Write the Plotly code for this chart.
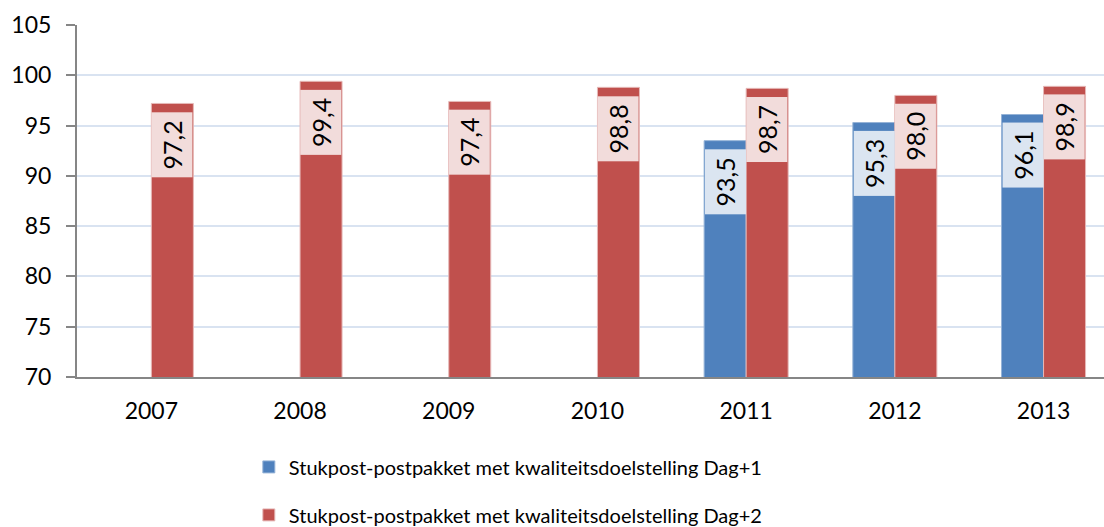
import plotly.graph_objects as go

years = ["2007", "2008", "2009", "2010", "2011", "2012", "2013"]
dag1 = [None, None, None, None, 93.5, 95.3, 96.1]
dag2 = [97.2, 99.4, 97.4, 98.8, 98.7, 98.0, 98.9]
name1 = "Stukpost-postpakket met kwaliteitsdoelstelling Dag+1"
name2 = "Stukpost-postpakket met kwaliteitsdoelstelling Dag+2"

BLUE = "#4f81bd"
RED = "#c0504d"
BLUE_BOX = "#dbe5f1"
RED_BOX = "#f2dcdb"
FONT = "Lato"
BARGAP = 0.435
half = (1 - BARGAP) / 4  # offset of each bar centre from category centre

x_idx = list(range(len(years)))

fig = go.Figure()
fig.add_trace(go.Bar(x=x_idx, y=dag1, name=name1, marker=dict(color=BLUE, line=dict(color="#95b3d7", width=1)),
                     legendgroup="a"))
fig.add_trace(go.Bar(x=x_idx, y=dag2, name=name2, marker=dict(color=RED, line=dict(color="#e6b9b8", width=1)),
                     legendgroup="b"))

anns = []
for series, off, box in ((dag1, -half, BLUE_BOX), (dag2, half, RED_BOX)):
    for i, v in enumerate(series):
        if v is None:
            continue
        anns.append(dict(
            x=i + off, y=v, xref="x", yref="y",
            text=f"{v:.1f}".replace(".", ","),
            textangle=-90, showarrow=False,
            xanchor="center", yanchor="top", yshift=-8,
            width=64, height=40, borderpad=0,
            bgcolor=box, font=dict(family=FONT, size=25, color="#000000"),
        ))

fig.update_layout(
    width=1104, height=527,
    margin=dict(l=77, r=0, t=25, b=150, autoexpand=False),
    paper_bgcolor="white", plot_bgcolor="white",
    barmode="group", bargap=BARGAP, bargroupgap=0,
    font=dict(family=FONT, size=23, color="#000000"),
    annotations=anns,
    legend=dict(orientation="v", x=0.42, xanchor="center", y=-0.2, yanchor="top",
                font=dict(family=FONT, size=20), tracegroupgap=19, itemwidth=30),
    showlegend=True,
)
fig.update_xaxes(
    tickmode="array", tickvals=x_idx, ticktext=years,
    range=[-0.5, (1104 - 77) / 148.7 - 0.5],
    showline=True, linecolor="#868686", linewidth=2,
    ticks="", showgrid=False, ticklabelstandoff=12,
    tickfont=dict(family=FONT, size=23),
)
fig.update_yaxes(
    range=[70, 105], dtick=5, tick0=70,
    showline=True, linecolor="#868686", linewidth=2,
    ticks="outside", ticklen=9, tickcolor="#868686", tickwidth=2,
    showgrid=True, gridcolor="#d9e3f1", gridwidth=2,
    ticklabelstandoff=10, zeroline=False,
    tickfont=dict(family=FONT, size=23),
)

fig.write_html("out.html", config={"displayModeBar": False},
               post_script="document.body.style.margin='0px';")
